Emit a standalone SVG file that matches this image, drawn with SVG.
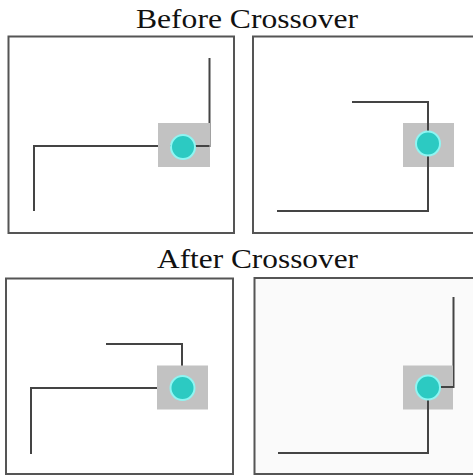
<svg xmlns="http://www.w3.org/2000/svg" width="473" height="476" viewBox="0 0 473 476">
<style>
.title{font-family:"Liberation Serif","Times New Roman",serif;font-size:28px;fill:#111;text-anchor:middle}
.panel{fill:#fff;stroke:#555;stroke-width:2}
.zone{fill:#c2c2c2}
.node{fill:#2ccac2;stroke:#8ff5f2;stroke-width:2}
.wire{fill:none;stroke:#444;stroke-width:2}
</style>
<rect width="473" height="476" fill="#fff"/>
<text class="title" x="247" y="28" textLength="222" lengthAdjust="spacingAndGlyphs">Before Crossover</text>
<text class="title" x="257.5" y="268" textLength="201" lengthAdjust="spacingAndGlyphs">After Crossover</text>
<g id="panel-before-left">
<rect class="panel" x="8.5" y="36.5" width="225.5" height="196.5"/>
</g>
<g id="panel-before-right">
<rect class="panel" x="253" y="36.5" width="240" height="196.5"/>
</g>
<g id="panel-after-left">
<rect class="panel" x="6" y="278.5" width="227" height="195.5"/>
</g>
<g id="panel-after-right">
<rect class="panel" x="254.5" y="278" width="240" height="196" style="fill:#fafafa"/>
</g>
<g id="connectors">
<polyline class="wire" points="209.5,58 209.5,146 34,146 34,211"/>
<polyline class="wire" points="352,102 428,102 428,211 277,211"/>
<polyline class="wire" points="106,344 182,344 182,375"/>
<polyline class="wire" points="170,388 31,388 31,454"/>
<polyline class="wire" points="440,387 453.5,387 453.5,297"/>
<polyline class="wire" points="428,400 428,453 278,453"/>
</g>
<g id="node-before-left">
<rect class="zone" x="158" y="123" width="52" height="44"/>
<polyline class="wire" points="170,146 209.5,146"/>
<circle class="node" cx="183" cy="147" r="12"/>
</g>
<g id="node-before-right">
<rect class="zone" x="403" y="123" width="51" height="44"/>
<polyline class="wire" points="428,120 428,170"/>
<circle class="node" cx="428" cy="143.5" r="12"/>
</g>
<g id="node-after-left">
<rect class="zone" x="157" y="365.5" width="51" height="44"/>
<circle class="node" cx="182.5" cy="388" r="12"/>
</g>
<g id="node-after-right">
<rect class="zone" x="403" y="365.5" width="50" height="44"/>
<polyline class="wire" points="428,387 453.5,387"/>
<polyline class="wire" points="428,387 428,410"/>
<circle class="node" cx="428" cy="387.5" r="12"/>
</g>
</svg>
